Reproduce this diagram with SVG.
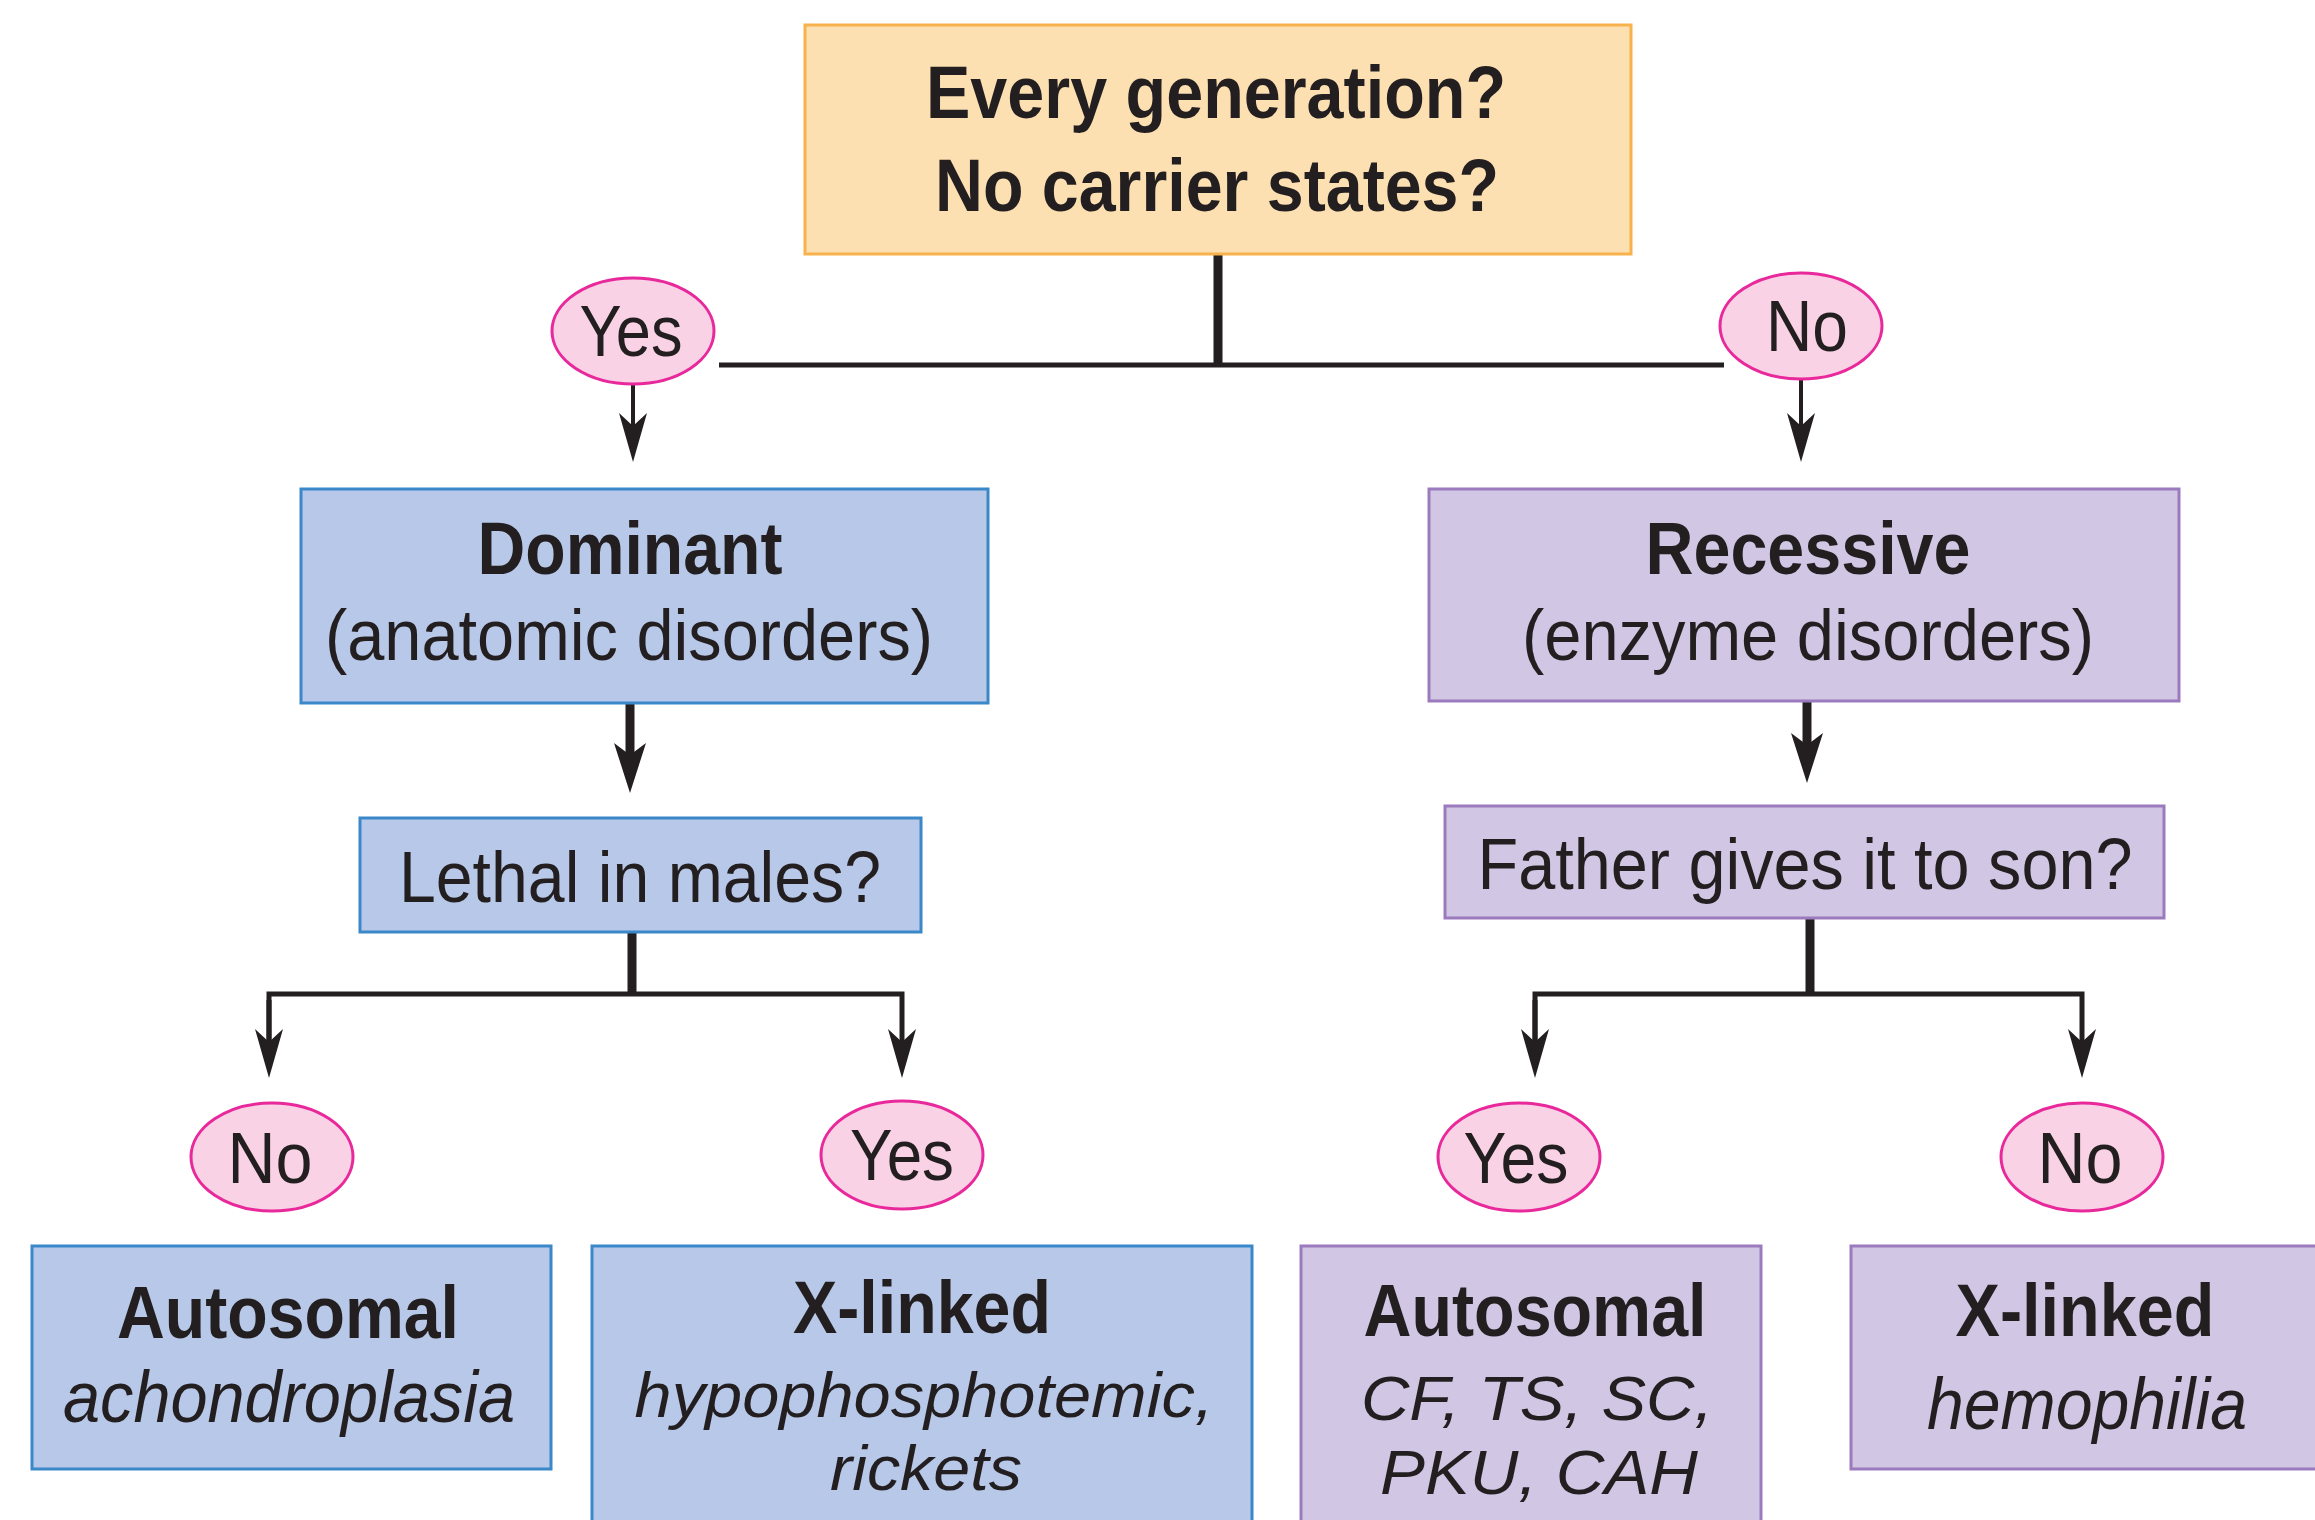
<svg xmlns="http://www.w3.org/2000/svg" width="2315" height="1520" viewBox="0 0 2315 1520">
<style>
.t{font-family:"Liberation Sans",Arial,sans-serif;fill:#231F20;text-anchor:middle}
.b{font-weight:bold}
.i{font-style:italic}
.top{fill:#FDE0B2;stroke:#F7B24C;stroke-width:3}
.blue{fill:#B8C8E8;stroke:#3A88C9;stroke-width:3}
.purp{fill:#D1C6E3;stroke:#9B7BBD;stroke-width:3}
.oval{fill:#F9D3E5;stroke:#E8289B;stroke-width:3}
.ln{fill:none;stroke:#231F20;stroke-linecap:butt;stroke-linejoin:miter}
</style>
<defs>
<marker id="ah" markerUnits="userSpaceOnUse" viewBox="-16 -16 56 32" refX="0" refY="0" markerWidth="56" markerHeight="32" orient="auto" overflow="visible">
<path d="M36,0 L-13,-14 L0,0 L-13,14 Z" fill="#231F20"/>
</marker>
<marker id="ahb" markerUnits="userSpaceOnUse" viewBox="-16 -18 56 36" refX="0" refY="0" markerWidth="56" markerHeight="36" orient="auto" overflow="visible">
<path d="M38,0 L-12,-16 L0,0 L-12,16 Z" fill="#231F20"/>
</marker>
</defs>
<rect width="2315" height="1520" fill="#FFFFFF"/>
<g id="connectors">
<path class="ln" d="M1218,254 V366" stroke-width="9"/>
<path class="ln" d="M719,365 H1724" stroke-width="5"/>
<path class="ln" d="M633,384 V426" stroke-width="4" marker-end="url(#ah)"/>
<path class="ln" d="M1801,379 V426" stroke-width="4" marker-end="url(#ah)"/>
<path class="ln" d="M630,703 V755" stroke-width="9" marker-end="url(#ahb)"/>
<path class="ln" d="M1807,701 V745" stroke-width="9" marker-end="url(#ahb)"/>
<path class="ln" d="M632,932 V994" stroke-width="9"/>
<path class="ln" d="M269,1042 V994 H902 V1042" stroke-width="5" marker-end="url(#ah)"/>
<path class="ln" d="M269,1000 V1042" stroke-width="5" marker-end="url(#ah)"/>
<path class="ln" d="M1810,918 V994" stroke-width="9"/>
<path class="ln" d="M1535,1042 V994 H2082 V1042" stroke-width="5" marker-end="url(#ah)"/>
<path class="ln" d="M1535,1000 V1042" stroke-width="5" marker-end="url(#ah)"/>
</g>
<g id="q-top">
<rect class="top" x="805" y="25" width="826" height="229"/>
<text class="t b" x="1216" y="118" font-size="74" textLength="580" lengthAdjust="spacingAndGlyphs">Every generation?</text>
<text class="t b" x="1217" y="211" font-size="74" textLength="564" lengthAdjust="spacingAndGlyphs">No carrier states?</text>
</g>
<g id="yes-top">
<ellipse class="oval" cx="633" cy="331" rx="81" ry="53"/>
<text class="t" x="631" y="356" font-size="72" textLength="103" lengthAdjust="spacingAndGlyphs">Yes</text>
</g>
<g id="no-top">
<ellipse class="oval" cx="1801" cy="326" rx="81" ry="53"/>
<text class="t" x="1807" y="351" font-size="72" textLength="82" lengthAdjust="spacingAndGlyphs">No</text>
</g>
<g id="dominant">
<rect class="blue" x="301" y="489" width="687" height="214"/>
<text class="t b" x="630" y="574" font-size="74" textLength="305" lengthAdjust="spacingAndGlyphs">Dominant</text>
<text class="t" x="629" y="660" font-size="72" textLength="608" lengthAdjust="spacingAndGlyphs">(anatomic disorders)</text>
</g>
<g id="recessive">
<rect class="purp" x="1429" y="489" width="750" height="212"/>
<text class="t b" x="1808" y="574" font-size="74" textLength="325" lengthAdjust="spacingAndGlyphs">Recessive</text>
<text class="t" x="1808" y="660" font-size="72" textLength="572" lengthAdjust="spacingAndGlyphs">(enzyme disorders)</text>
</g>
<g id="lethal">
<rect class="blue" x="360" y="818" width="561" height="114"/>
<text class="t" x="640" y="902" font-size="72" textLength="482" lengthAdjust="spacingAndGlyphs">Lethal in males?</text>
</g>
<g id="father">
<rect class="purp" x="1445" y="806" width="719" height="112"/>
<text class="t" x="1805" y="889" font-size="72" textLength="655" lengthAdjust="spacingAndGlyphs">Father gives it to son?</text>
</g>
<g id="no-left">
<ellipse class="oval" cx="272" cy="1157" rx="81" ry="54"/>
<text class="t" x="270" y="1183" font-size="72" textLength="85" lengthAdjust="spacingAndGlyphs">No</text>
</g>
<g id="yes-mid">
<ellipse class="oval" cx="902" cy="1155" rx="81" ry="54"/>
<text class="t" x="902" y="1180" font-size="72" textLength="104" lengthAdjust="spacingAndGlyphs">Yes</text>
</g>
<g id="yes-right">
<ellipse class="oval" cx="1519" cy="1157" rx="81" ry="54"/>
<text class="t" x="1516" y="1183" font-size="72" textLength="105" lengthAdjust="spacingAndGlyphs">Yes</text>
</g>
<g id="no-right">
<ellipse class="oval" cx="2082" cy="1157" rx="81" ry="54"/>
<text class="t" x="2080" y="1183" font-size="72" textLength="85" lengthAdjust="spacingAndGlyphs">No</text>
</g>
<g id="auto-dom">
<rect class="blue" x="32" y="1246" width="519" height="223"/>
<text class="t b" x="288" y="1338" font-size="74" textLength="342" lengthAdjust="spacingAndGlyphs">Autosomal</text>
<text class="t i" x="289" y="1422" font-size="72" textLength="452" lengthAdjust="spacingAndGlyphs">achondroplasia</text>
</g>
<g id="xl-dom">
<rect class="blue" x="592" y="1246" width="660" height="290"/>
<text class="t b" x="922" y="1333" font-size="74" textLength="258" lengthAdjust="spacingAndGlyphs">X-linked</text>
<text class="t i" x="924" y="1417" font-size="63" textLength="579" lengthAdjust="spacingAndGlyphs">hypophosphotemic,</text>
<text class="t i" x="926" y="1490" font-size="63" textLength="192" lengthAdjust="spacingAndGlyphs">rickets</text>
</g>
<g id="auto-rec">
<rect class="purp" x="1301" y="1246" width="460" height="290"/>
<text class="t b" x="1535" y="1336" font-size="74" textLength="343" lengthAdjust="spacingAndGlyphs">Autosomal</text>
<text class="t i" x="1537" y="1420" font-size="63" textLength="352" lengthAdjust="spacingAndGlyphs">CF, TS, SC,</text>
<text class="t i" x="1539" y="1494" font-size="63" textLength="318" lengthAdjust="spacingAndGlyphs">PKU, CAH</text>
</g>
<g id="xl-rec">
<rect class="purp" x="1851" y="1246" width="480" height="223"/>
<text class="t b" x="2085" y="1336" font-size="74" textLength="259" lengthAdjust="spacingAndGlyphs">X-linked</text>
<text class="t i" x="2087" y="1429" font-size="72" textLength="320" lengthAdjust="spacingAndGlyphs">hemophilia</text>
</g>
</svg>
